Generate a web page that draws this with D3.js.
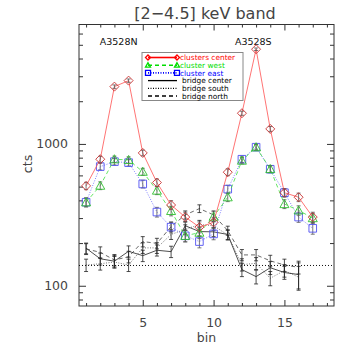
<!DOCTYPE html>
<html>
<head>
<meta charset="utf-8">
<script src="https://cdn.jsdelivr.net/npm/d3@7"></script>
<style>
  html, body { margin: 0; padding: 0; background: #fff; }
  text { font-family: "DejaVu Sans", sans-serif; }
</style>
</head>
<body>
<div id="chart"></div>
<script>
(function(module){

  // bins along the cluster-bridge-cluster strip
  let bins = [1, 2, 3, 4, 5, 6, 7, 8, 9, 10, 11, 12, 13, 14, 15, 16, 17];
  let bridgeBins = [1, 2, 3, 4, 5, 6, 7, 8, 9, 10, 11, 12, 13, 14, 15, 16];

  // counts per bin
  let clustersCenter = [506, 780, 2535, 2795, 864, 534, 371, 305, 259, 280, 632, 1646, 4653, 1276, 453, 421, 305];
  let clusterWest = [388, 508, 780, 771, 637, 469, 337, 225, 237, 307, 421, 763, 948, 666, 377, 340, 300];
  let clusterEast = [388, 692, 750, 738, 522, 331, 259, 225, 205, 232, 480, 780, 948, 663, 453, 305, 254];
  let bridgeCenter = [184, 155, 149, 175, 163, 178, 174, 265, 241, 240, 230, 130, 116, 134, 124, 120];
  let bridgeSouth = [140, 143, 147, 140, 185, 185, 230, 250, 270, 265, 228, 141, 144, 113, 128, 115];
  let bridgeNorth = [182, 172, 152, 160, 205, 199, 261, 316, 350, 316, 245, 165, 165, 150, 140, 135];

  // error bar half widths (cts)
  let clustersCenterErr = [30, 38, 70, 75, 40, 32, 27, 25, 23, 24, 35, 55, 95, 50, 30, 29, 25];
  let clusterWestErr = [28, 32, 40, 40, 36, 30, 26, 21, 22, 25, 29, 40, 45, 37, 27, 26, 24];
  let clusterEastErr = [28, 37, 39, 39, 33, 26, 23, 21, 20, 21, 31, 40, 45, 37, 30, 25, 23];
  let bridgeCenterErr = [16, 15, 14, 16, 15, 16, 16, 19, 18, 18, 18, 14, 13, 14, 13, 25];
  let bridgeSouthErr = [14, 14, 14, 14, 16, 16, 18, 19, 19, 19, 18, 14, 14, 13, 13, 22];
  let bridgeNorthErr = [16, 16, 14, 15, 17, 17, 19, 21, 22, 21, 18, 15, 15, 14, 14, 14];

  // flat background level (dotted line across the plot)
  let backgroundLevel = 139;

  let xMajorTicks = [5, 10, 15];
  let yMajorTicks = [100, 1000];
  let clusterLabels = [
    { name: 'A3528N', bin: 3.3 },
    { name: 'A3528S', bin: 12.8 },
  ];

  let width = 357;
  let height = 357;
  let left = 79, right = 334, top = 24.5, bottom = 306;

  let chart = {};
  module.chart = chart;

  chart.x = d3.scaleLinear().domain([0.5, 18.5]).range([left, right]);
  chart.y = d3.scaleLog().domain([72, 6950]).range([bottom, top]);

  chart.series = [
    { name: 'clusters center', values: clustersCenter, err: clustersCenterErr, bins: bins,
      line: '#ff5050', mark: '#c83030', text: '#ff0000', dash: null, symbol: 'diamond' },
    { name: 'cluster west', values: clusterWest, err: clusterWestErr, bins: bins,
      line: '#40e040', mark: '#30c030', text: '#00dd00', dash: '4,3', symbol: 'triangle' },
    { name: 'cluster east', values: clusterEast, err: clusterEastErr, bins: bins,
      line: '#6060ff', mark: '#5050f0', text: '#0000ff', dash: '1,1.5', symbol: 'square' },
    { name: 'bridge center', values: bridgeCenter, err: bridgeCenterErr, bins: bridgeBins,
      line: '#222', mark: '#222', text: '#000', dash: null, symbol: null },
    { name: 'bridge south', values: bridgeSouth, err: bridgeSouthErr, bins: bridgeBins,
      line: '#555', mark: '#333', text: '#000', dash: '1,1.5', symbol: null },
    { name: 'bridge north', values: bridgeNorth, err: bridgeNorthErr, bins: bridgeBins,
      line: '#444', mark: '#333', text: '#000', dash: '4,3', symbol: null },
  ];

  chart.svg = d3.select('#chart')
    .append('svg')
    .attr('width', width)
    .attr('height', height);

  //symbol paths, IDL style
  chart.symbolPath = function(type, r){
    if (type === 'diamond') return `M0,${-r}L${r},0L0,${r}L${-r},0Z`;
    if (type === 'square') return `M${-r},${-r}H${r}V${r}H${-r}Z`;
    if (type === 'triangle') return `M0,${-r}L${r},${r * 0.8}L${-r},${r * 0.8}Z`;
    return '';
  };

  chart.drawAxes = function(){
    let x = chart.x, y = chart.y;
    let g = chart.svg.append('g').attr('class', 'axes');
    let xMinor = d3.range(1, 19).filter((d) => xMajorTicks.indexOf(d) < 0);
    let yMinor = y.ticks().filter((d) => yMajorTicks.indexOf(d) < 0);

    let axisStyle = function(sel){
      sel.select('.domain').remove();
      sel.selectAll('line').attr('stroke', '#333').attr('stroke-width', 1);
      sel.selectAll('text').attr('fill', '#444').style('font-size', '12.5px');
    };

    // bottom + top
    g.append('g').attr('transform', `translate(0,${bottom})`)
      .call(d3.axisBottom(x).tickValues(xMajorTicks).tickSize(-6).tickPadding(12).tickFormat(d3.format('d')))
      .call(axisStyle);
    g.append('g').attr('transform', `translate(0,${bottom})`)
      .call(d3.axisBottom(x).tickValues(xMinor).tickSize(-3).tickFormat(''))
      .call(axisStyle);
    g.append('g').attr('transform', `translate(0,${top})`)
      .call(d3.axisTop(x).tickValues(xMajorTicks).tickSize(-6).tickFormat(''))
      .call(axisStyle);
    g.append('g').attr('transform', `translate(0,${top})`)
      .call(d3.axisTop(x).tickValues(xMinor).tickSize(-3).tickFormat(''))
      .call(axisStyle);

    // left + right
    g.append('g').attr('transform', `translate(${left},0)`)
      .call(d3.axisLeft(y).tickValues(yMajorTicks).tickSize(-7).tickPadding(11).tickFormat(d3.format('d')))
      .call(axisStyle);
    g.append('g').attr('transform', `translate(${left},0)`)
      .call(d3.axisLeft(y).tickValues(yMinor).tickSize(-4).tickFormat(''))
      .call(axisStyle);
    g.append('g').attr('transform', `translate(${right},0)`)
      .call(d3.axisRight(y).tickValues(yMajorTicks).tickSize(-7).tickFormat(''))
      .call(axisStyle);
    g.append('g').attr('transform', `translate(${right},0)`)
      .call(d3.axisRight(y).tickValues(yMinor).tickSize(-4).tickFormat(''))
      .call(axisStyle);

    g.append('rect')
      .attr('x', left).attr('y', top)
      .attr('width', right - left).attr('height', bottom - top)
      .attr('fill', 'none').attr('stroke', '#333').attr('stroke-width', 1);

    // titles
    chart.svg.append('text')
      .attr('x', 205).attr('y', 19)
      .attr('text-anchor', 'middle')
      .attr('fill', '#444')
      .style('font-size', '16px')
      .text('[2\u22124.5] keV band');

    chart.svg.append('text')
      .attr('x', (left + right) / 2).attr('y', 342)
      .attr('text-anchor', 'middle')
      .attr('fill', '#444')
      .style('font-size', '12.5px')
      .text('bin');

    chart.svg.append('text')
      .attr('transform', 'translate(32,164) rotate(-90)')
      .attr('text-anchor', 'middle')
      .attr('fill', '#444')
      .style('font-size', '12.5px')
      .text('cts');

    chart.svg.selectAll('.cluster-name')
      .data(clusterLabels)
      .enter().append('text')
      .attr('class', 'cluster-name')
      .attr('x', (d) => x(d.bin))
      .attr('y', 45)
      .attr('text-anchor', 'middle')
      .attr('fill', '#111')
      .style('font-size', '9.5px')
      .text((d) => d.name);
  };

  chart.drawSeries = function(){
    let x = chart.x, y = chart.y;
    let plot = chart.svg.append('g').attr('class', 'plot');

    //background level
    plot.append('line')
      .attr('x1', left).attr('x2', right)
      .attr('y1', y(backgroundLevel)).attr('y2', y(backgroundLevel))
      .attr('stroke', '#111').attr('stroke-width', 1)
      .attr('stroke-dasharray', '1,2');

    chart.series.slice().reverse().forEach((s) => {
      let pts = s.bins.map((b, i) => ({ bin: b, v: s.values[i], e: s.err[i] }));
      let line = d3.line().x((d) => x(d.bin)).y((d) => y(d.v));
      let g = plot.append('g');

      g.append('path')
        .datum(pts)
        .attr('d', line)
        .attr('fill', 'none')
        .attr('stroke', s.line)
        .attr('stroke-width', 0.8)
        .attr('stroke-dasharray', s.dash);

      //error bars with caps
      let eb = g.selectAll('.err').data(pts).enter().append('g').attr('class', 'err')
        .attr('stroke', s.symbol ? '#555' : '#222')
        .attr('stroke-width', 0.8);
      eb.append('line')
        .attr('x1', (d) => x(d.bin)).attr('x2', (d) => x(d.bin))
        .attr('y1', (d) => y(d.v - d.e)).attr('y2', (d) => y(d.v + d.e));
      eb.append('line')
        .attr('x1', (d) => x(d.bin) - 2).attr('x2', (d) => x(d.bin) + 2)
        .attr('y1', (d) => y(d.v - d.e)).attr('y2', (d) => y(d.v - d.e));
      eb.append('line')
        .attr('x1', (d) => x(d.bin) - 2).attr('x2', (d) => x(d.bin) + 2)
        .attr('y1', (d) => y(d.v + d.e)).attr('y2', (d) => y(d.v + d.e));

      if (s.symbol) {
        g.selectAll('.sym').data(pts).enter().append('path')
          .attr('class', 'sym')
          .attr('transform', (d) => `translate(${x(d.bin)},${y(d.v)})`)
          .attr('d', chart.symbolPath(s.symbol, s.symbol === 'square' ? 3.8 : 4.5))
          .attr('fill', 'none')
          .attr('stroke', s.mark)
          .attr('stroke-width', 0.9);
      }
    });
  };

  chart.drawLegend = function(){
    let lg = chart.svg.append('g').attr('class', 'legend');
    let x0 = 142, y0 = 52.5, rowH = 7.7;

    lg.append('rect')
      .attr('x', x0).attr('y', y0)
      .attr('width', 101).attr('height', 48)
      .attr('fill', '#fff').attr('stroke', '#888').attr('stroke-width', 1);

    let rows = lg.selectAll('.row').data(chart.series).enter().append('g')
      .attr('class', 'row')
      .attr('transform', (d, i) => `translate(0,${y0 + 5 + i * rowH})`);

    rows.append('line')
      .attr('x1', 148).attr('x2', 177)
      .attr('stroke', (d) => d.symbol ? d.text : '#000')
      .attr('stroke-width', (d) => d.symbol ? 1.6 : 1.3)
      .attr('stroke-dasharray', (d) => d.dash);

    rows.filter((d) => d.symbol).selectAll('.lsym')
      .data((d) => [148, 177].map((px) => ({ px: px, s: d })))
      .enter().append('path')
      .attr('transform', (d) => `translate(${d.px},0)`)
      .attr('d', (d) => chart.symbolPath(d.s.symbol, 2.5))
      .attr('fill', 'none')
      .attr('stroke', (d) => d.s.text)
      .attr('stroke-width', 1.3);

    rows.append('text')
      .attr('x', (d) => d.symbol ? 180 : 182)
      .attr('y', 2.7)
      .attr('fill', (d) => d.text)
      .style('font-size', '7.4px')
      .text((d) => d.name);
  };

  chart.drawAxes();
  chart.drawSeries();
  chart.drawLegend();

})(window);
</script>
</body>
</html>
